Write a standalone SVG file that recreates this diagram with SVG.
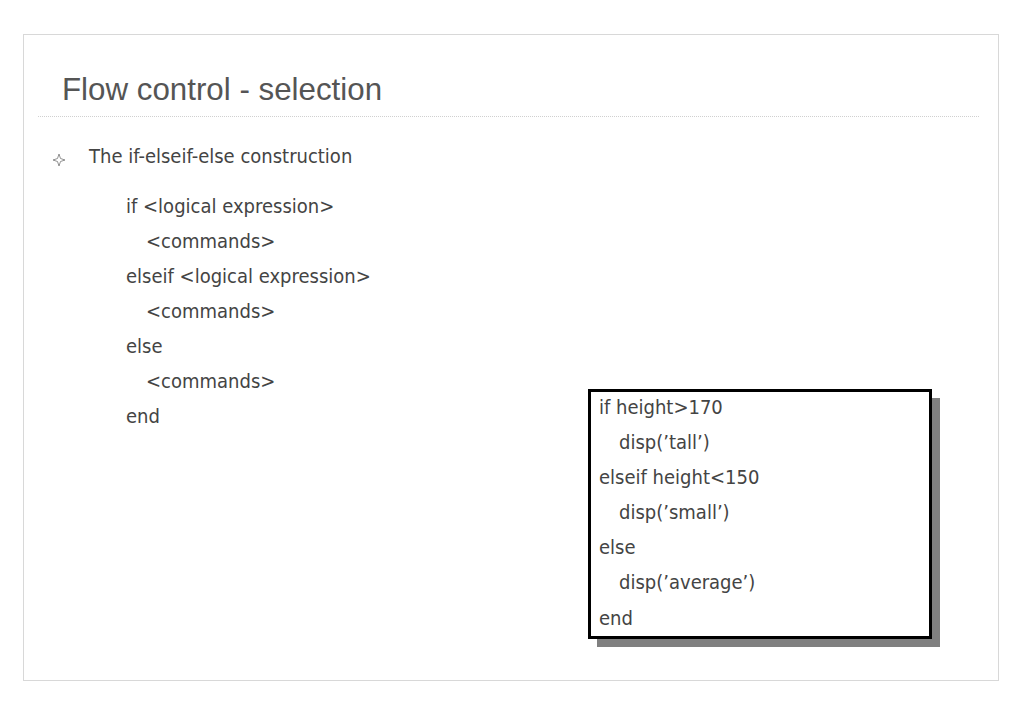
<svg xmlns="http://www.w3.org/2000/svg" width="1023" height="708" viewBox="0 0 1023 708">
<style>
.t{font-family:"DejaVu Sans Condensed","DejaVu Sans",sans-serif;font-size:20px;fill:#444}
.title{font-family:"Liberation Sans",Arial,sans-serif;font-size:31.3px;fill:#555}
</style>
<rect width="1023" height="708" fill="#fff"/>
<rect x="23.5" y="34.5" width="975" height="646" fill="none" stroke="#d8d8d8" stroke-width="1"/>
<g id="title"><text class="title" x="62" y="100">Flow control - selection</text></g>
<line x1="38" y1="116.5" x2="980" y2="116.5" stroke="#d0d0d0" stroke-width="1" stroke-dasharray="1 1"/>
<g id="bullet">
<path d="M59 154 L60.5 158.5 L65 160 L60.5 161.5 L59 166 L57.5 161.5 L53 160 L57.5 158.5 Z" fill="none" stroke="#777" stroke-width="0.8"/>
<text class="t" x="89" y="163">The if-elseif-else construction</text>
</g>
<g id="syntax">
<text class="t" x="126" y="213">if &lt;logical expression&gt;</text>
<text class="t" x="146" y="248">&lt;commands&gt;</text>
<text class="t" x="126" y="283">elseif &lt;logical expression&gt;</text>
<text class="t" x="146" y="318">&lt;commands&gt;</text>
<text class="t" x="126" y="353">else</text>
<text class="t" x="146" y="388">&lt;commands&gt;</text>
<text class="t" x="126" y="423">end</text>
</g>
<g id="example">
<rect x="597" y="398" width="343" height="249" fill="#808080"/>
<rect x="589.5" y="390.5" width="341" height="247" fill="#fff" stroke="#000" stroke-width="3"/>
<text class="t" x="599" y="414">if height&gt;170</text>
<text class="t" x="619" y="449">disp(’tall’)</text>
<text class="t" x="599" y="484">elseif height&lt;150</text>
<text class="t" x="619" y="519">disp(’small’)</text>
<text class="t" x="599" y="554">else</text>
<text class="t" x="619" y="589">disp(’average’)</text>
<text class="t" x="599" y="625">end</text>
</g>
</svg>
